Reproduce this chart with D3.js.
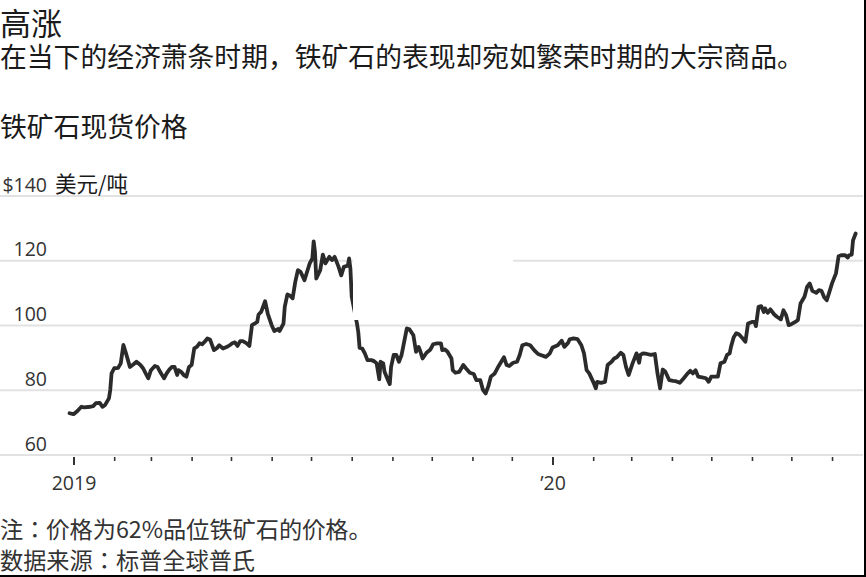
<!DOCTYPE html>
<html>
<head>
<meta charset="utf-8">
<script src="https://cdn.jsdelivr.net/npm/d3@7"></script>
<style>
  html, body { margin: 0; padding: 0; background: #fff; }
  svg { display: block; }
  text { font-family: "Open Sans", "Noto Sans CJK SC", sans-serif; }
  .cjk { font-family: "Noto Sans CJK SC", "Noto Sans", sans-serif; }
  .note { font-family: "Noto Sans CJK JP", "Noto Sans CJK SC", sans-serif; }
</style>
</head>
<body>
<svg id="chart" width="866" height="577"></svg>
<script>
// ---- Data ----
const title = "高涨";
const subtitle = "在当下的经济萧条时期，铁矿石的表现却宛如繁荣时期的大宗商品。";
const seriesTitle = "铁矿石现货价格";
const unitLabel = "美元/吨";
const note = "注：价格为62%品位铁矿石的价格。";
const source = "数据来源：标普全球普氏";

const yTicks = [60, 80, 100, 120, 140];
const yTickLabels = ["60", "80", "100", "120", "$140"];
const majorTickLabels = { 2019: "2019", 2020: "’20" };

const dates = [
"2018-12-29","2019-01-01","2019-01-04","2019-01-07","2019-01-09","2019-01-14","2019-01-16","2019-01-18","2019-01-21","2019-01-23",
"2019-01-25","2019-01-28","2019-01-29","2019-01-30","2019-02-01","2019-02-04","2019-02-06","2019-02-08","2019-02-10","2019-02-13",
"2019-02-16","2019-02-18","2019-02-21","2019-02-23","2019-02-25","2019-02-27","2019-03-01","2019-03-04","2019-03-06","2019-03-08",
"2019-03-09","2019-03-11","2019-03-13","2019-03-15","2019-03-17","2019-03-19","2019-03-21","2019-03-22","2019-03-24","2019-03-26",
"2019-03-28","2019-03-30","2019-04-01","2019-04-03","2019-04-05","2019-04-07","2019-04-09","2019-04-11","2019-04-13","2019-04-15",
"2019-04-18","2019-04-20","2019-04-22","2019-04-25","2019-04-28","2019-04-30","2019-05-02","2019-05-04","2019-05-06","2019-05-08",
"2019-05-10","2019-05-13","2019-05-15","2019-05-17","2019-05-19","2019-05-21","2019-05-22","2019-05-24","2019-05-27","2019-05-29",
"2019-06-01","2019-06-03","2019-06-06","2019-06-07","2019-06-10","2019-06-11","2019-06-13","2019-06-15","2019-06-17","2019-06-19",
"2019-06-21","2019-06-23","2019-06-26","2019-06-28","2019-06-30","2019-07-02","2019-07-03","2019-07-04","2019-07-05","2019-07-08",
"2019-07-10","2019-07-12","2019-07-13","2019-07-15","2019-07-17","2019-07-19","2019-07-20","2019-07-22","2019-07-24","2019-07-26",
"2019-07-28","2019-07-29","2019-07-30","2019-07-31","2019-08-01","2019-08-05","2019-08-06","2019-08-07","2019-08-09","2019-08-11",
"2019-08-13","2019-08-16","2019-08-18","2019-08-20","2019-08-22","2019-08-23","2019-08-25","2019-08-26","2019-08-28","2019-08-30",
"2019-08-31","2019-09-02","2019-09-04","2019-09-06","2019-09-08","2019-09-10","2019-09-12","2019-09-14","2019-09-17","2019-09-19",
"2019-09-21","2019-09-22","2019-09-24","2019-09-27","2019-09-30","2019-10-02","2019-10-05","2019-10-08","2019-10-09","2019-10-11",
"2019-10-13","2019-10-16","2019-10-17","2019-10-19","2019-10-22","2019-10-25","2019-10-27","2019-10-30","2019-11-02","2019-11-04",
"2019-11-07","2019-11-09","2019-11-11","2019-11-13","2019-11-15","2019-11-18","2019-11-21","2019-11-25","2019-11-27","2019-11-29",
"2019-12-02","2019-12-05","2019-12-07","2019-12-09","2019-12-12","2019-12-15","2019-12-18","2019-12-21","2019-12-23","2019-12-27",
"2019-12-30","2020-01-01","2020-01-05","2020-01-08","2020-01-10","2020-01-13","2020-01-14","2020-01-17","2020-01-20","2020-01-23",
"2020-01-25","2020-01-27","2020-01-29","2020-02-01","2020-02-03","2020-02-04","2020-02-07","2020-02-10","2020-02-12","2020-02-15",
"2020-02-17","2020-02-19","2020-02-22","2020-02-24","2020-02-26","2020-02-28","2020-03-02","2020-03-05","2020-03-07","2020-03-08",
"2020-03-10","2020-03-13","2020-03-16","2020-03-19","2020-03-21","2020-03-23","2020-03-25","2020-03-27","2020-03-30","2020-04-02",
"2020-04-04","2020-04-07","2020-04-10","2020-04-13","2020-04-15","2020-04-17","2020-04-19","2020-04-21","2020-04-24","2020-04-27",
"2020-04-29","2020-05-01","2020-05-03","2020-05-06","2020-05-08","2020-05-11","2020-05-13","2020-05-15","2020-05-16","2020-05-18",
"2020-05-20","2020-05-22","2020-05-25","2020-05-27","2020-05-29","2020-06-01","2020-06-03","2020-06-04","2020-06-06","2020-06-08",
"2020-06-10","2020-06-11","2020-06-13","2020-06-15","2020-06-18","2020-06-20","2020-06-23","2020-06-25","2020-06-27","2020-06-29",
"2020-07-01","2020-07-04","2020-07-06","2020-07-08","2020-07-11","2020-07-13","2020-07-15","2020-07-17","2020-07-20","2020-07-22",
"2020-07-24","2020-07-26","2020-07-28","2020-07-30","2020-08-01","2020-08-04","2020-08-06","2020-08-08","2020-08-11","2020-08-13",
"2020-08-14","2020-08-16","2020-08-17","2020-08-19"
];
const prices = [
72.9,72.6,73.6,74.9,74.7,74.9,75.1,76.0,76.1,74.9,
75.4,77.5,80.1,85.2,86.8,86.9,88.3,94.0,91.4,87.2,
88.1,88.8,87.8,86.8,85.2,83.7,86.2,87.5,87.2,85.7,
85.0,83.7,85.2,86.4,87.2,87.2,84.7,86.2,85.7,84.7,
84.2,87.2,87.8,92.9,93.4,94.5,94.2,95.0,96.0,95.7,
92.4,92.9,93.9,92.9,93.4,93.9,94.5,94.8,93.7,95.2,
95.2,94.5,93.7,100.1,100.6,101.1,103.4,104.2,107.5,103.7,
100.1,98.3,98.9,98.3,100.6,105.8,109.6,109.2,108.4,113.5,
117.1,116.6,114.0,116.6,119.2,120.7,126.0,122.7,114.5,117.1,
121.9,119.2,119.9,121.2,120.2,121.2,120.2,118.1,115.5,118.1,
118.4,118.4,120.7,117.6,108.9,100.6,98.0,93.1,92.9,91.4,
89.3,89.3,89.0,88.3,83.4,88.8,88.3,85.7,83.7,81.9,
87.2,90.9,90.9,88.8,90.9,95.0,99.1,98.8,97.0,91.9,
93.4,92.4,89.8,91.6,92.6,94.2,94.5,94.5,92.4,92.6,
91.9,89.8,86.2,85.4,85.7,87.8,86.8,85.4,85.0,83.1,
83.1,80.1,79.0,81.1,84.2,85.2,87.5,90.2,87.8,87.5,
88.5,88.8,90.9,93.9,94.3,93.9,92.4,91.2,90.9,90.3,
91.4,93.2,93.9,95.3,93.4,94.7,95.7,96.0,95.8,93.9,
91.4,86.2,85.2,82.6,80.6,82.6,82.3,82.6,87.8,88.8,
89.8,90.2,91.6,90.9,87.2,84.7,88.3,91.4,88.5,90.9,
91.4,91.2,90.9,91.2,85.2,80.6,86.4,85.7,83.1,82.9,
82.8,82.3,83.7,85.2,86.0,85.2,86.2,84.2,84.0,83.7,
82.6,84.2,84.2,84.2,88.3,88.8,90.9,91.4,93.4,96.3,
97.6,97.3,96.0,95.0,100.6,101.1,101.1,99.8,105.8,106.0,
104.2,105.3,103.9,105.0,103.4,102.7,101.9,104.7,103.2,100.1,
100.4,101.1,101.7,106.8,108.9,111.9,113.0,110.7,110.1,110.9,
110.7,108.7,107.8,110.4,113.0,116.1,121.4,121.7,121.7,121.0,
121.7,121.9,126.3,128.4
];

// ---- Chart ----
const parse = d3.timeParse("%Y-%m-%d");
const data = dates.map((d, i) => ({ date: parse(d), value: prices[i] }));

const svg = d3.select("#chart");
const W = 866, H = 577;

const x = d3.scaleTime()
  .domain([new Date(2019, 0, 1), new Date(2020, 0, 1)])
  .range([73.5, 552.5]);
const y = d3.scaleLinear().domain([60, 140]).range([455, 196]);

// Headings
svg.append("text").attr("class", "cjk").attr("x", 0).attr("y", 35)
  .attr("font-size", 31).attr("fill", "#1a1a1a").text(title);
svg.append("text").attr("class", "cjk").attr("x", 0).attr("y", 67)
  .attr("font-size", 26.8).attr("fill", "#1a1a1a").text(subtitle);
svg.append("text").attr("class", "cjk").attr("x", 0).attr("y", 137)
  .attr("font-size", 26.8).attr("fill", "#1a1a1a").text(seriesTitle);

// Gridlines
svg.append("g").selectAll("line").data(yTicks).join("line")
  .attr("x1", 0).attr("x2", 863)
  .attr("y1", d => y(d)).attr("y2", d => y(d))
  .attr("stroke", "#e2e2e2").attr("stroke-width", 2);

// Y labels
svg.append("g").selectAll("text").data(yTicks).join("text")
  .attr("x", 47).attr("y", d => y(d) - 4.5)
  .attr("text-anchor", "end")
  .attr("font-size", 19.5).attr("fill", "#333")
  .text((d, i) => yTickLabels[i]);
svg.append("text").attr("class", "cjk").attr("x", 55).attr("y", y(140) - 4.5)
  .attr("font-size", 21.5).attr("fill", "#1a1a1a").text(unitLabel);

// X axis (monthly ticks)
const months = d3.timeMonth.range(new Date(2019, 0, 1), new Date(2020, 7, 2));
const xAxis = d3.axisBottom(x)
  .tickValues(months)
  .tickSize(0)
  .tickFormat(() => "");
const gx = svg.append("g").attr("transform", "translate(0,457)").call(xAxis);
gx.select(".domain").remove();
gx.selectAll(".tick line")
  .attr("y2", d => d.getMonth() === 0 ? 8 : 4)
  .attr("stroke", "#333")
  .attr("stroke-width", d => d.getMonth() === 0 ? 2 : 1.6);
gx.selectAll(".tick text")
  .attr("y", 33)
  .attr("dy", 0)
  .attr("font-size", 19.5)
  .attr("fill", "#333")
  .attr("font-family", "Open Sans, sans-serif")
  .text(d => d.getMonth() === 0 ? majorTickLabels[d.getFullYear()] : "");

// Price line
const line = d3.line().x(d => x(d.date)).y(d => y(d.value)).curve(d3.curveLinear);
svg.append("path").datum(data)
  .attr("d", line)
  .attr("fill", "none")
  .attr("stroke", "#2b2b2b")
  .attr("stroke-width", 3.8)
  .attr("stroke-linejoin", "round")
  .attr("stroke-linecap", "round");

// Mask area present in the reference (blank patch over the chart)
svg.append("rect").attr("x", 353).attr("y", 257).attr("width", 160).attr("height", 63)
  .attr("fill", "#fff");

// Footnotes
svg.append("text").attr("class", "note").attr("x", 0).attr("y", 538)
  .attr("font-size", 23.2).attr("fill", "#333").text(note);
svg.append("text").attr("class", "note").attr("x", 0).attr("y", 569)
  .attr("font-size", 23.2).attr("fill", "#333").text(source);

// Frame edges present in the reference
svg.append("line").attr("x1", 0).attr("x2", W).attr("y1", H - 1).attr("y2", H - 1)
  .attr("stroke", "#000").attr("stroke-width", 2);
svg.append("line").attr("x1", W - 1).attr("x2", W - 1).attr("y1", 0).attr("y2", H)
  .attr("stroke", "#000").attr("stroke-width", 2);
</script>
</body>
</html>
